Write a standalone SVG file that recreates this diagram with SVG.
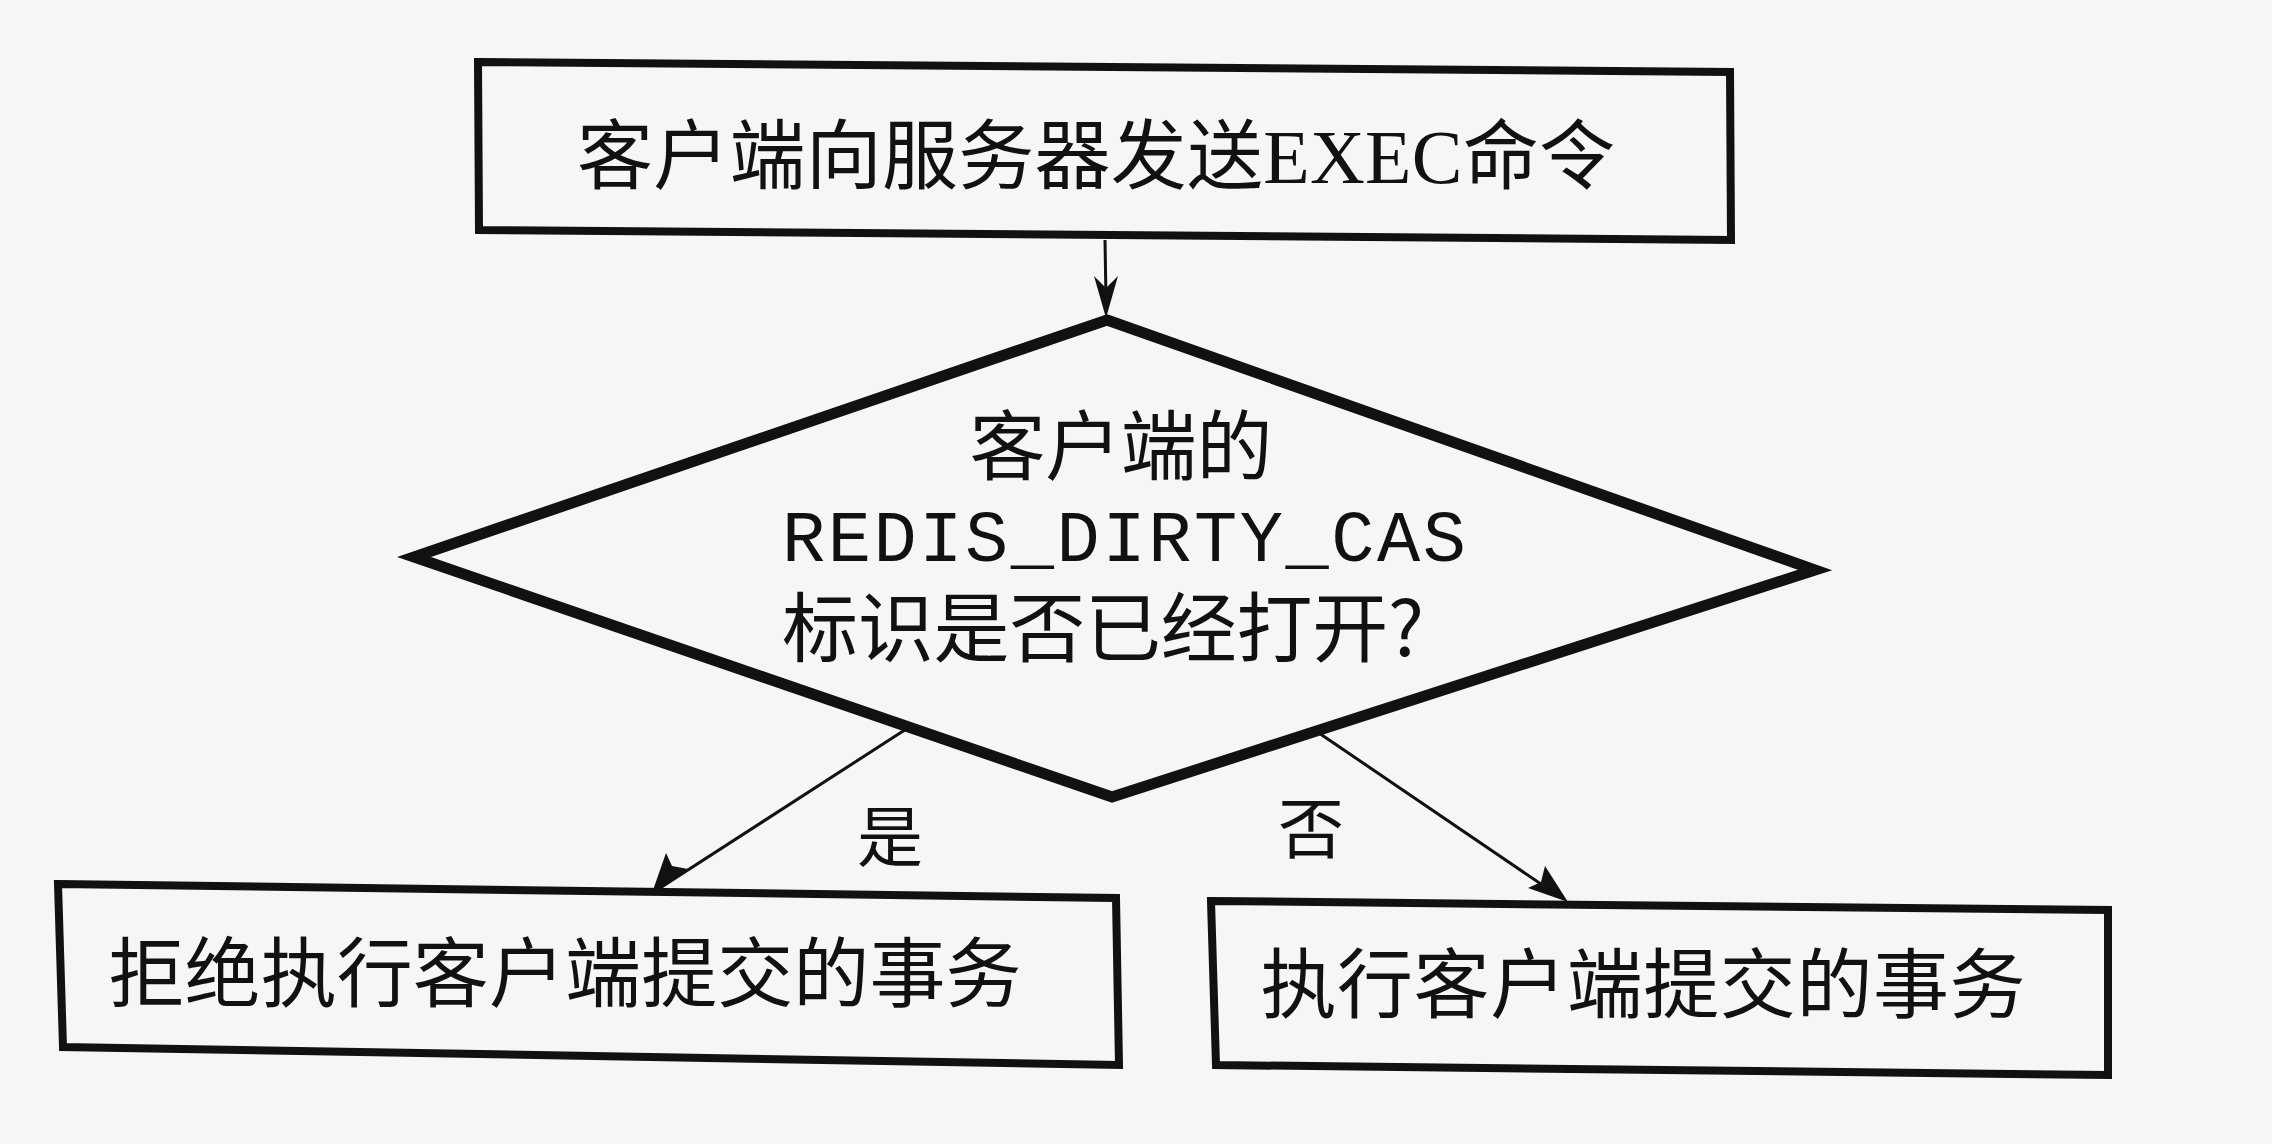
<svg xmlns="http://www.w3.org/2000/svg" width="2272" height="1144" viewBox="0 0 2272 1144">
<defs>
<style>
.box{fill:none;stroke:#111;stroke-width:8;stroke-linejoin:miter}
.dia{fill:none;stroke:#111;stroke-width:11;stroke-linejoin:miter}
.cjk{font-family:"Noto Sans CJK SC","Noto Sans",sans-serif;font-size:76px;fill:#111;text-anchor:middle}
.mono{font-family:"Liberation Mono",monospace;font-size:72px;fill:#111;text-anchor:middle}
.lbl{font-family:"Noto Sans CJK SC",sans-serif;font-size:66px;fill:#111;text-anchor:middle}
.edge{stroke:#111;stroke-width:3;fill:none}
</style>
</defs>
<rect width="2272" height="1144" fill="#f8f6f4"/>
<g id="connectors">
<line class="edge" x1="1105" y1="240" x2="1106" y2="300"/>
<path d="M1094,276 L1106,318 L1118,276 L1106,288 Z" fill="#111"/>
<line class="edge" x1="914" y1="724" x2="660" y2="888"/>
<path d="M652,893 L666,853 L672,866 L688,869 Z" fill="#111"/>
<line class="edge" x1="1316" y1="731" x2="1560" y2="897"/>
<path d="M1568,902 L1528,888 L1541,882 L1545,866 Z" fill="#111"/>
</g>
<g id="node-send-exec">
<polygon class="box" points="478,62 1730,72 1731,240 479,230"/>
<text class="cjk" x="1096" y="183" textLength="1038" lengthAdjust="spacing">客户端向服务器发送<tspan font-family="Liberation Serif">EXEC</tspan>命令</text>
</g>
<g id="node-check-flag">
<polygon class="dia" points="1107,320 1815,570 1112,797 414,557"/>
<text class="cjk" x="1121" y="474" textLength="303" lengthAdjust="spacing">客户端的</text>
<text class="mono" x="1124" y="561" textLength="684" lengthAdjust="spacing">REDIS_DIRTY_CAS</text>
<text class="cjk" x="1103" y="656" textLength="642" lengthAdjust="spacing">标识是否已经打开?</text>
</g>
<g id="label-yes"><text class="lbl" x="890" y="861">是</text></g>
<g id="label-no"><text class="lbl" x="1311" y="853">否</text></g>
<g id="node-reject">
<polygon class="box" points="58,884 1116,898 1119,1065 63,1047"/>
<text class="cjk" x="565" y="1001" textLength="913" lengthAdjust="spacing">拒绝执行客户端提交的事务</text>
</g>
<g id="node-execute">
<polygon class="box" points="1211,901 2108,910 2108,1075 1216,1065"/>
<text class="cjk" x="1643" y="1012" textLength="765" lengthAdjust="spacing">执行客户端提交的事务</text>
</g>
</svg>
